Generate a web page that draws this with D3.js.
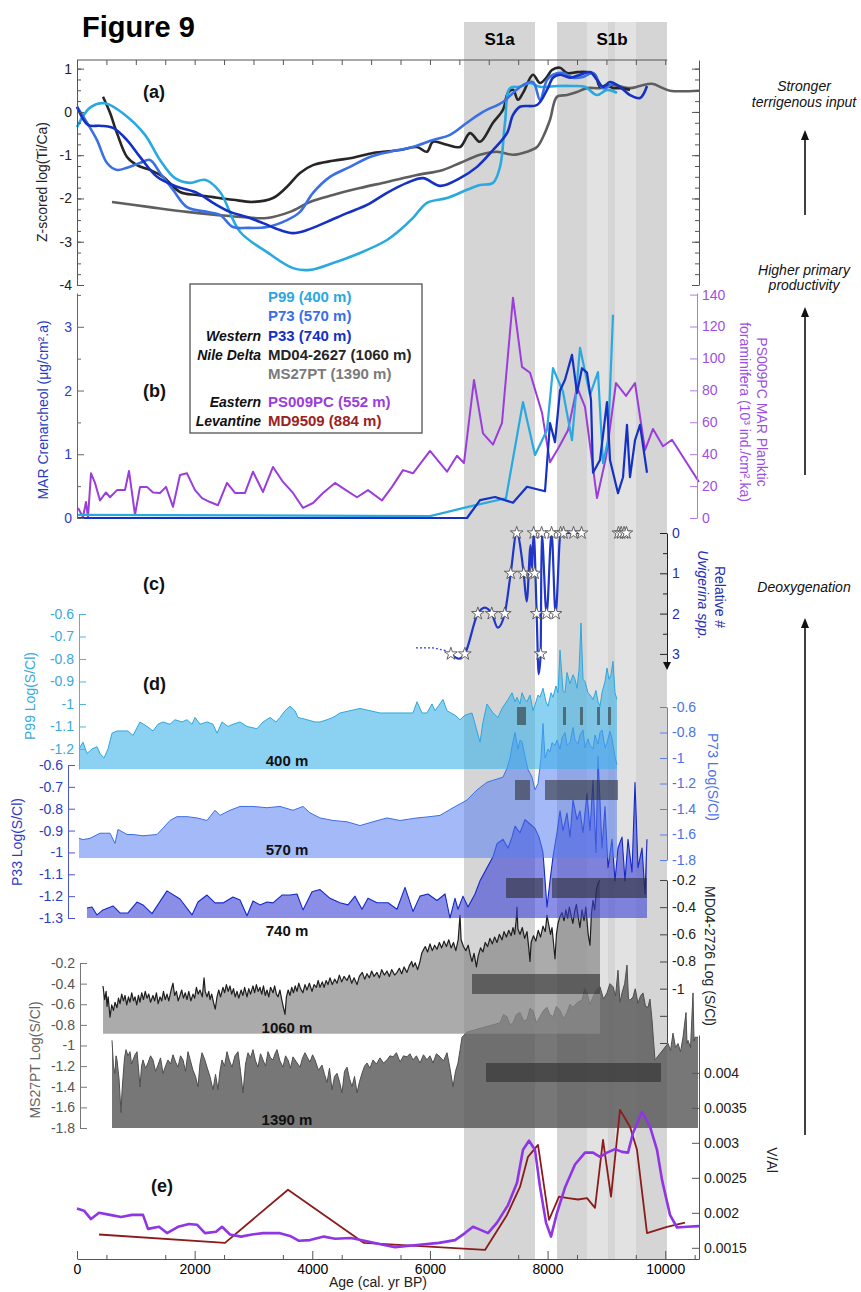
<!DOCTYPE html>
<html>
<head>
<meta charset="utf-8">
<script src="https://cdn.jsdelivr.net/npm/d3@7"></script>
<style>
  body { margin: 0; background: #fff; }
  svg { display: block; font-family: "Liberation Sans", Arial, sans-serif; }
</style>
</head>
<body>
<svg id="chart" width="861" height="1292"></svg>
<script>
// sapropel intervals (cal. yr BP)
const s1Bands = [[6579, 7786], [8160, 10030]];
const s1LightStripes = [[8670, 9027], [9146, 9503]];
const s1Names = ["S1a", "S1b"];

const legendNames = ["P99 (400 m)", "P73 (570 m)", "P33 (740 m)", "MD04-2627 (1060 m)", "MS27PT (1390 m)", "PS009PC (552 m)", "MD9509 (884 m)"];
const depthLabels = ["400 m", "570 m", "740 m", "1060 m", "1390 m"];
const ageTicks = [0, 2000, 4000, 6000, 8000, 10000];

// (a) Z-scored log(Ti/Ca)
const tiCaP99 = [[0,-0.35],[221,0.1],[476,0.2],[816,-0.07],[1156,-0.53],[1411,-1.11],[1666,-1.53],[1921,-1.64],[2176,-1.57],[2431,-1.85],[2771,-2.77],[3230,-3.24],[3672,-3.61],[3961,-3.65],[4352,-3.49],[4811,-3.26],[5270,-2.96],[5491,-2.73],[5712,-2.45],[5950,-2.10],[6290,-1.99],[6630,-1.80],[6851,-1.69],[7072,-1.64],[7191,-1.27],[7276,-0.25],[7361,0.55],[7531,0.58],[7701,0.67],[7871,0.58],[8160,0.6],[8432,0.6],[8636,0.58],[8840,0.39],[9010,0.51],[9180,0.44]];
const tiCaP73 = [[0,0.12],[170,-0.25],[340,-0.65],[510,-1.18],[680,-1.34],[850,-1.29],[1071,-1.18],[1241,-1.11],[1411,-1.41],[1632,-1.80],[1870,-2.20],[2210,-2.31],[2431,-2.38],[2652,-2.66],[2890,-2.68],[3230,-2.66],[3570,-2.50],[3791,-2.31],[4012,-1.87],[4301,-1.50],[4641,-1.27],[4981,-1.04],[5321,-0.92],[5712,-0.81],[6052,-0.65],[6341,-0.53],[6630,-0.25],[6902,0],[7242,0.23],[7412,0.44],[7582,0.62],[7752,0.69],[7871,0.28],[7990,0.74],[8092,0.86],[8262,0.90],[8432,0.79],[8602,0.81],[8772,0.90],[8942,0.55],[9112,0.67]];
const tiCaP33 = [[0,0.12],[187,-0.30],[391,-0.32],[612,-0.37],[850,-0.65],[1071,-1.04],[1360,-1.50],[1700,-1.73],[2040,-1.87],[2312,-2.10],[2601,-2.31],[2890,-2.43],[3162,-2.57],[3451,-2.73],[3672,-2.80],[3910,-2.73],[4250,-2.54],[4590,-2.34],[4930,-2.15],[5270,-1.87],[5610,-1.64],[5882,-1.53],[6171,-1.71],[6511,-1.53],[6800,-1.27],[7072,-0.88],[7310,-0.49],[7412,-0.07],[7531,0.12],[7820,0.16],[7990,0.51],[8092,0.79],[8211,0.86],[8381,0.79],[8551,0.86],[8721,0.92],[8840,0.74],[8942,0.58],[9061,0.69],[9231,0.58],[9401,0.39],[9571,0.32],[9690,0.60]];
const tiCaMD04 = [[442,0.35],[561,-0.02],[680,-0.49],[850,-1.04],[1020,-1.23],[1241,-1.34],[1462,-1.50],[1751,-1.85],[2040,-1.92],[2312,-1.97],[2652,-2.03],[2992,-2.08],[3332,-1.99],[3570,-1.73],[3791,-1.41],[4012,-1.23],[4352,-1.13],[4692,-1.06],[5032,-0.95],[5491,-0.88],[5780,-0.81],[5950,-0.92],[6052,-0.69],[6290,-0.76],[6511,-0.81],[6681,-0.49],[6851,-0.69],[7072,-0.25],[7242,0.05],[7327,0.44],[7412,0.51],[7497,0.28],[7582,0.44],[7752,0.86],[7871,0.67],[7990,0.81],[8075,0.97],[8211,1.02],[8330,0.90],[8500,0.92],[8670,0.92],[8806,0.86],[8891,0.58],[9010,0.62],[9112,0.55],[9231,0.55],[9401,0.51]];
const tiCaMS27 = [[595,-2.08],[1241,-2.20],[1870,-2.31],[2550,-2.40],[3230,-2.45],[3621,-2.31],[3961,-2.08],[4352,-1.92],[4811,-1.76],[5270,-1.62],[5780,-1.46],[6222,-1.34],[6511,-1.18],[6851,-0.99],[7140,-0.92],[7412,-0.99],[7650,-0.92],[7820,-0.81],[7922,-0.58],[8041,-0.18],[8160,0.35],[8330,0.39],[8500,0.46],[8670,0.55],[8891,0.55],[9112,0.62],[9401,0.55],[9571,0.60],[9775,0.65],[9962,0.55],[10081,0.49],[10574,0.49]];

// (b) MAR crenarchaeol and planktic foraminifera
const crenP99 = [[17,0.05],[6001,0.03],[6630,0.17],[7293,0.31],[7582,1.82],[7786,0.99],[7990,1.38],[8092,2.35],[8262,1.98],[8415,1.22],[8551,2.67],[8721,1.93],[8857,2.29],[8942,0.86],[9027,1.22],[9112,3.19]];
const crenP33 = [[17,0.0],[6630,0.0],[6851,0.28],[7106,0.33],[7412,0.24],[7650,0.49],[7956,0.42],[8041,1.49],[8126,1.19],[8211,2.0],[8296,2.17],[8415,2.56],[8500,1.96],[8585,2.35],[8670,2.28],[8738,1.85],[8772,0.71],[8891,0.91],[9010,1.82],[9061,0.91],[9197,0.39],[9282,0.64],[9350,1.46],[9401,0.64],[9486,1.22],[9571,1.46],[9690,0.71]];
const planktPS009 = [[17,6.3],[102,0.6],[153,10],[187,0.6],[238,28],[306,22],[391,11],[493,16],[561,13],[680,17.5],[816,17.5],[884,29.5],[986,2],[1071,19.5],[1190,19.5],[1292,16],[1411,15.7],[1513,19.5],[1632,7],[1751,27],[1870,28],[2006,17.5],[2125,12.5],[2261,10],[2397,8],[2550,22],[2686,15.7],[2856,15.7],[2992,29],[3162,16.3],[3332,32],[3502,22.6],[3672,15.7],[3842,6.3],[4012,9.4],[4182,15.7],[4386,22],[4590,17],[4760,13],[4947,17.5],[5185,11],[5355,19.5],[5542,30],[5712,28],[6001,42],[6290,29],[6460,39],[6579,34.5],[6749,86.5],[6902,53],[7072,46],[7225,59.6],[7412,138],[7565,94.7],[7701,91],[7905,66],[8041,35],[8194,44.5],[8347,55],[8500,82],[8636,69.6],[8840,12.5],[8993,38],[9163,84.6],[9333,76.5],[9486,84.6],[9656,42.6],[9792,55.8],[9962,45],[10115,49],[10574,22.6]];

// (c) relative # Uvigerina spp.
const uvigDotted = [[5763,2.85],[6050,2.85],[6271,2.92],[6356,3.0]];
const uvigLine = [[6356,3.0],[6492,3.12],[6593,3.0],[6814,2.0],[6932,1.85],[7051,2.0],[7153,2.35],[7272,2.0],[7373,1.0],[7475,0.0],[7594,1.0],[7645,1.7],[7712,0.3],[7729,1.0],[7763,0.0],[7814,2.0],[7848,3.5],[7882,3.0],[7899,0.0],[7983,2.0],[8068,0.0],[8136,2.0],[8221,0.0],[8272,0.0],[8441,0.0],[8577,0.0]];
const uvigSamples = [[6356,3],[6593,3],[6814,2],[7051,2],[7272,2],[7373,1],[7475,0],[7594,1],[7729,1],[7763,0],[7780,1],[7814,2],[7882,3],[7899,0],[7983,2],[8068,0],[8136,2],[8221,0],[8272,0],[8441,0],[8577,0],[9204,0],[9250,0],[9300,0],[9340,0]];

// (d) Log(S/Cl)
const scP99 = [[34,-1.20],[102,-1.17],[170,-1.22],[255,-1.20],[340,-1.19],[391,-1.22],[459,-1.24],[527,-1.20],[595,-1.13],[680,-1.12],[765,-1.12],[867,-1.12],[952,-1.14],[1071,-1.08],[1190,-1.10],[1292,-1.12],[1377,-1.09],[1462,-1.08],[1581,-1.09],[1666,-1.07],[1785,-1.08],[1870,-1.07],[1955,-1.09],[2006,-1.06],[2091,-1.09],[2210,-1.08],[2312,-1.09],[2380,-1.13],[2465,-1.08],[2567,-1.10],[2652,-1.09],[2771,-1.08],[2890,-1.10],[3060,-1.11],[3162,-1.08],[3281,-1.06],[3383,-1.08],[3451,-1.06],[3536,-1.03],[3621,-1.01],[3706,-1.03],[3757,-1.06],[3910,-1.07],[4046,-1.08],[4131,-1.08],[4250,-1.07],[4352,-1.06],[4471,-1.04],[4641,-1.03],[4811,-1.02],[4981,-1.03],[5151,-1.04],[5270,-1.04],[5406,-1.04],[5542,-1.04],[5712,-1.04],[5780,-0.99],[5865,-1.04],[5950,-1.04],[6035,-1.00],[6086,-1.03],[6222,-0.98],[6290,-1.03],[6426,-1.05],[6511,-1.07],[6596,-1.05],[6715,-1.04],[6800,-1.12],[6851,-1.17],[6902,-1.08],[6970,-1.00],[7072,-1.04],[7157,-1.06],[7225,-1.02],[7276,-1.00],[7327,-0.98],[7395,-0.95],[7446,-0.99],[7480,-0.97],[7531,-1.00],[7565,-0.95],[7616,-0.98],[7650,-0.99],[7701,-0.96],[7752,-1.03],[7803,-0.99],[7837,-0.96],[7871,-0.97],[7922,-0.93],[7973,-0.99],[8007,-1.01],[8058,-0.95],[8092,-0.97],[8143,-0.92],[8177,-0.95],[8211,-0.76],[8262,-0.94],[8296,-0.95],[8330,-0.86],[8381,-0.91],[8432,-0.87],[8466,-0.89],[8500,-0.93],[8534,-0.85],[8568,-0.64],[8602,-0.89],[8636,-0.90],[8687,-0.95],[8721,-0.96],[8772,-0.98],[8823,-0.94],[8857,-0.99],[8891,-1.01],[8925,-0.95],[8976,-0.90],[9010,-0.84],[9044,-0.89],[9078,-0.87],[9112,-0.81],[9146,-0.95],[9180,-0.98]];
const scP73 = [[34,-1.63],[102,-1.64],[221,-1.63],[391,-1.59],[561,-1.59],[646,-1.67],[697,-1.56],[850,-1.60],[952,-1.60],[1122,-1.61],[1360,-1.60],[1462,-1.55],[1581,-1.49],[1700,-1.46],[1870,-1.46],[2040,-1.47],[2210,-1.49],[2346,-1.41],[2431,-1.45],[2601,-1.41],[2771,-1.38],[2992,-1.38],[3230,-1.39],[3451,-1.38],[3672,-1.41],[3842,-1.38],[3961,-1.43],[4131,-1.47],[4352,-1.49],[4590,-1.50],[4811,-1.53],[5032,-1.50],[5270,-1.47],[5491,-1.49],[5780,-1.47],[6001,-1.46],[6171,-1.45],[6392,-1.39],[6630,-1.33],[6800,-1.25],[6970,-1.19],[7106,-1.17],[7242,-1.15],[7310,-1.08],[7361,-1.00],[7395,-0.91],[7446,-0.80],[7497,-0.93],[7531,-0.86],[7565,-0.87],[7616,-0.99],[7667,-1.09],[7735,-1.15],[7786,-1.25],[7837,-1.20],[7888,-1.00],[7922,-0.73],[7956,-1.00],[8007,-0.93],[8041,-0.95],[8075,-0.88],[8126,-0.90],[8160,-0.86],[8211,-0.93],[8245,-0.84],[8296,-0.80],[8330,-0.90],[8381,-0.88],[8432,-0.76],[8466,-0.86],[8517,-0.89],[8551,-0.82],[8602,-0.78],[8636,-0.92],[8687,-0.85],[8721,-0.90],[8772,-0.93],[8806,-0.82],[8857,-0.89],[8891,-0.80],[8925,-0.78],[8976,-0.92],[9010,-0.88],[9061,-0.79],[9095,-0.85],[9146,-0.99],[9180,-1.05]];
const scP33 = [[170,-1.254],[255,-1.25],[340,-1.286],[442,-1.263],[612,-1.245],[731,-1.277],[867,-1.277],[1020,-1.227],[1122,-1.24],[1275,-1.28],[1530,-1.176],[1751,-1.213],[1955,-1.286],[2057,-1.227],[2210,-1.195],[2346,-1.231],[2482,-1.231],[2652,-1.204],[2771,-1.218],[2890,-1.29],[2992,-1.222],[3111,-1.24],[3230,-1.227],[3332,-1.231],[3485,-1.195],[3621,-1.195],[3740,-1.19],[3842,-1.263],[3995,-1.18],[4131,-1.17],[4301,-1.21],[4471,-1.23],[4607,-1.24],[4726,-1.20],[4845,-1.26],[4947,-1.21],[5100,-1.23],[5287,-1.23],[5440,-1.26],[5576,-1.16],[5712,-1.27],[5831,-1.20],[5967,-1.19],[6120,-1.22],[6256,-1.19],[6341,-1.30],[6426,-1.21],[6477,-1.26],[6562,-1.20],[6647,-1.25],[6766,-1.19],[6851,-1.13],[6970,-1.07],[7072,-1.02],[7140,-0.96],[7242,-0.94],[7327,-0.98],[7395,-0.93],[7446,-0.88],[7531,-0.91],[7616,-0.85],[7701,-0.87],[7786,-0.89],[7854,-0.93],[7922,-1.0],[7990,-1.25],[8041,-1.13],[8092,-1.02],[8160,-0.91],[8211,-0.81],[8262,-0.90],[8330,-0.82],[8381,-0.93],[8432,-0.76],[8500,-0.85],[8551,-0.81],[8602,-0.91],[8670,-0.73],[8721,-0.90],[8772,-0.67],[8823,-1.0],[8857,-0.56],[8925,-0.98],[8976,-0.79],[9027,-1.07],[9095,-0.94],[9146,-1.13],[9197,-0.98],[9265,-0.93],[9316,-1.13],[9367,-0.94],[9435,-1.09],[9486,-0.68],[9537,-1.07],[9605,-0.98],[9656,-1.19],[9690,-0.94]];
const scMD04 = [[442,-0.98],[470,-1.08],[495,-1.02],[510,-1.13],[530,-1.06],[561,-1.21],[590,-1.12],[620,-1.16],[646,-1.10],[680,-1.14],[705,-1.07],[731,-1.11],[760,-1.04],[790,-1.09],[816,-1.05],[845,-1.12],[875,-1.06],[901,-1.10],[930,-1.03],[960,-1.09],[986,-1.06],[1015,-1.12],[1045,-1.05],[1071,-1.10],[1100,-1.03],[1130,-1.08],[1160,-1.02],[1190,-1.07],[1220,-1.04],[1250,-1.10],[1292,-1.05],[1320,-1.09],[1350,-1.03],[1380,-1.11],[1411,-1.06],[1440,-1.09],[1470,-1.02],[1500,-1.08],[1530,-1.04],[1560,-1.09],[1600,-1.01],[1632,-0.96],[1660,-1.05],[1690,-1.02],[1720,-1.09],[1751,-1.05],[1780,-1.01],[1810,-1.07],[1840,-1.03],[1870,-1.08],[1900,-1.02],[1935,-1.09],[1972,-1.04],[2000,-1.07],[2030,-0.99],[2060,-1.04],[2091,-1.01],[2130,-1.06],[2160,-0.92],[2180,-1.02],[2210,-1.06],[2240,-1.02],[2261,-1.08],[2290,-1.04],[2320,-1.10],[2350,-1.15],[2380,-1.06],[2410,-1.01],[2440,-1.06],[2482,-0.99],[2510,-1.03],[2540,-0.97],[2570,-1.02],[2601,-0.98],[2630,-1.04],[2660,-1.00],[2690,-1.06],[2720,-1.02],[2750,-1.07],[2790,-1.01],[2820,-1.05],[2850,-0.99],[2890,-1.06],[2920,-1.00],[2950,-1.04],[2992,-0.98],[3020,-1.03],[3050,-0.97],[3080,-1.02],[3111,-0.99],[3140,-1.04],[3170,-0.98],[3200,-1.05],[3230,-1.01],[3260,-1.06],[3290,-0.99],[3332,-1.03],[3360,-0.98],[3390,-1.04],[3417,-1.06],[3450,-1.01],[3480,-1.08],[3510,-1.14],[3536,-1.19],[3560,-1.06],[3590,-1.01],[3621,-1.05],[3650,-0.99],[3680,-1.03],[3710,-0.98],[3740,-1.02],[3770,-0.96],[3800,-1.00],[3840,-1.03],[3876,-0.97],[3910,-1.01],[3950,-0.96],[3995,-1.02],[4030,-0.97],[4070,-0.99],[4100,-0.94],[4131,-0.99],[4170,-0.95],[4200,-0.99],[4235,-0.94],[4267,-0.97],[4300,-0.92],[4340,-0.97],[4380,-0.93],[4420,-0.96],[4460,-0.90],[4500,-0.95],[4540,-0.91],[4590,-0.94],[4630,-0.90],[4670,-0.96],[4710,-0.92],[4760,-0.97],[4800,-0.91],[4850,-0.88],[4890,-0.93],[4930,-0.89],[4970,-0.92],[5010,-0.87],[5050,-0.91],[5100,-0.88],[5140,-0.92],[5180,-0.86],[5225,-0.90],[5270,-0.87],[5310,-0.91],[5350,-0.86],[5400,-0.90],[5440,-0.88],[5480,-0.85],[5520,-0.89],[5560,-0.84],[5610,-0.88],[5650,-0.83],[5690,-0.80],[5712,-0.84],[5750,-0.81],[5790,-0.86],[5831,-0.80],[5860,-0.74],[5882,-0.72],[5920,-0.69],[5960,-0.73],[6001,-0.67],[6040,-0.72],[6080,-0.68],[6120,-0.71],[6160,-0.66],[6200,-0.70],[6240,-0.65],[6280,-0.69],[6320,-0.64],[6360,-0.70],[6400,-0.66],[6440,-0.72],[6480,-0.64],[6511,-0.46],[6530,-0.64],[6570,-0.69],[6610,-0.72],[6650,-0.68],[6690,-0.76],[6715,-0.80],[6750,-0.74],[6790,-0.84],[6820,-0.76],[6860,-0.70],[6900,-0.73],[6940,-0.66],[6980,-0.69],[7020,-0.63],[7060,-0.67],[7100,-0.62],[7140,-0.66],[7180,-0.60],[7225,-0.64],[7260,-0.58],[7300,-0.62],[7340,-0.57],[7380,-0.61],[7412,-0.55],[7440,-0.60],[7465,-0.50],[7480,-0.40],[7495,-0.56],[7531,-0.60],[7570,-0.55],[7610,-0.63],[7650,-0.58],[7680,-0.70],[7701,-0.80],[7720,-0.66],[7760,-0.61],[7800,-0.65],[7840,-0.57],[7880,-0.62],[7922,-0.54],[7960,-0.58],[7990,-0.46],[8020,-0.53],[8050,-0.60],[8075,-0.55],[8100,-0.66],[8126,-0.78],[8150,-0.60],[8177,-0.52],[8210,-0.47],[8245,-0.44],[8280,-0.50],[8310,-0.42],[8340,-0.48],[8370,-0.40],[8400,-0.46],[8430,-0.52],[8460,-0.43],[8490,-0.38],[8520,-0.47],[8550,-0.55],[8585,-0.42],[8620,-0.50],[8650,-0.40],[8690,-0.60],[8721,-0.68],[8745,-0.45],[8772,-0.35],[8800,-0.42],[8830,-0.27],[8860,-0.22],[8891,-0.20]];
const scMS27 = [[595,-0.95],[620,-1.20],[646,-1.27],[663,-1.10],[680,-1.14],[714,-1.32],[748,-1.65],[765,-1.45],[782,-1.31],[808,-1.12],[833,-1.04],[867,-1.10],[901,-1.06],[927,-1.18],[952,-1.14],[986,-1.09],[1020,-1.06],[1045,-1.22],[1071,-1.40],[1097,-1.20],[1122,-1.14],[1165,-1.22],[1207,-1.17],[1250,-1.10],[1292,-1.14],[1335,-1.25],[1377,-1.19],[1420,-1.12],[1462,-1.27],[1505,-1.20],[1547,-1.14],[1590,-1.18],[1632,-1.09],[1675,-1.16],[1717,-1.21],[1760,-1.10],[1802,-1.14],[1845,-1.25],[1887,-1.06],[1930,-1.15],[1972,-1.24],[2015,-1.30],[2057,-1.40],[2090,-1.18],[2125,-1.07],[2168,-1.13],[2210,-1.21],[2260,-1.30],[2312,-1.43],[2355,-1.28],[2397,-1.43],[2430,-1.25],[2465,-1.14],[2508,-1.20],[2550,-1.06],[2593,-1.15],[2635,-1.21],[2686,-1.10],[2737,-1.06],[2780,-1.25],[2822,-1.46],[2865,-1.18],[2907,-1.07],[2950,-1.12],[2992,-1.04],[3035,-1.15],[3077,-1.21],[3120,-1.08],[3162,-1.14],[3205,-1.20],[3247,-1.06],[3290,-1.12],[3332,-1.14],[3366,-1.08],[3400,-1.04],[3450,-1.15],[3502,-1.21],[3545,-1.10],[3587,-1.14],[3630,-1.22],[3672,-1.11],[3730,-1.16],[3791,-1.21],[3834,-1.12],[3876,-1.07],[3920,-1.12],[3961,-1.16],[4005,-1.09],[4046,-1.14],[4105,-1.24],[4165,-1.19],[4208,-1.28],[4250,-1.36],[4292,-1.22],[4335,-1.43],[4378,-1.30],[4420,-1.27],[4462,-1.35],[4505,-1.46],[4548,-1.25],[4590,-1.21],[4632,-1.32],[4675,-1.40],[4718,-1.30],[4760,-1.46],[4803,-1.35],[4845,-1.27],[4888,-1.20],[4930,-1.17],[4980,-1.22],[5032,-1.14],[5090,-1.18],[5151,-1.12],[5210,-1.17],[5270,-1.14],[5320,-1.10],[5372,-1.11],[5430,-1.07],[5491,-1.16],[5550,-1.10],[5610,-1.11],[5660,-1.08],[5712,-1.14],[5770,-1.10],[5831,-1.17],[5890,-1.09],[5950,-1.14],[6000,-1.10],[6052,-1.17],[6110,-1.08],[6171,-1.11],[6230,-1.15],[6290,-1.07],[6340,-1.22],[6392,-1.40],[6435,-1.25],[6477,-1.17],[6510,-1.05],[6545,-0.92],[6630,-0.87],[7191,-0.78],[7250,-0.70],[7310,-0.72],[7360,-0.80],[7412,-0.78],[7470,-0.70],[7531,-0.68],[7590,-0.76],[7650,-0.75],[7700,-0.64],[7752,-0.66],[7810,-0.78],[7871,-0.72],[7930,-0.66],[7990,-0.63],[8040,-0.70],[8092,-0.72],[8150,-0.62],[8211,-0.66],[8270,-0.74],[8330,-0.68],[8380,-0.60],[8432,-0.63],[8510,-0.58],[8585,-0.56],[8630,-0.45],[8670,-0.49],[8720,-0.60],[8772,-0.53],[8830,-0.46],[8891,-0.43],[8950,-0.55],[9010,-0.49],[9060,-0.40],[9112,-0.43],[9155,-0.52],[9197,-0.27],[9230,-0.58],[9265,-0.49],[9310,-0.40],[9350,-0.22],[9375,-0.55],[9401,-0.56],[9452,-0.53],[9490,-0.45],[9537,-0.59],[9580,-0.52],[9622,-0.49],[9665,-0.62],[9707,-0.63],[9740,-0.55],[9775,-0.75],[9800,-0.95],[9826,-1.14],[10047,-0.98],[10090,-1.05],[10132,-0.88],[10175,-1.02],[10217,-0.98],[10260,-1.06],[10302,-0.92],[10353,-0.68],[10370,-0.98],[10387,-0.95],[10430,-1.02],[10472,-0.49],[10490,-0.96],[10506,-0.92],[10557,-0.92]];

// dark bars of the sapropel intervals in each core
const barsP99 = [[7480,7633],[8262,8313],[8551,8602],[8840,8891],[9027,9078]];
const barsP73 = [[7446,7701],[7956,9197]];
const barsP33 = [[7293,7922],[8075,9690]];
const barsMD04 = [[6715,8891]];
const barsMS27 = [[6953,9928]];

// (e) V/Al
const vAlPS009 = [[0,0.00206],[119,0.00203],[238,0.00191],[374,0.0020],[561,0.00197],[748,0.00194],[935,0.00197],[1122,0.00197],[1207,0.00177],[1394,0.0018],[1530,0.00171],[1717,0.0018],[1904,0.00184],[2040,0.00183],[2176,0.00171],[2363,0.00173],[2465,0.0018],[2601,0.00169],[2788,0.00166],[2975,0.00169],[3162,0.00171],[3434,0.00171],[3621,0.00167],[3774,0.0016],[3961,0.00161],[4199,0.00166],[4386,0.00163],[4658,0.00164],[4947,0.00159],[5219,0.00154],[5406,0.00151],[5780,0.00154],[6154,0.00157],[6426,0.00161],[6596,0.00171],[6732,0.0018],[6851,0.00176],[6987,0.00171],[7140,0.00186],[7327,0.00211],[7480,0.00243],[7582,0.0029],[7684,0.00303],[7786,0.0029],[7871,0.00237],[7973,0.00186],[8058,0.00166],[8160,0.0020],[8296,0.00236],[8466,0.00269],[8636,0.00286],[8772,0.00286],[8891,0.0028],[9010,0.00286],[9146,0.00291],[9265,0.00287],[9367,0.00286],[9452,0.00314],[9605,0.00344],[9741,0.00323],[9860,0.0029],[9945,0.00247],[10081,0.00197],[10200,0.00179],[10370,0.0018],[10574,0.00181]];
const vAlMD9509 = [[374,0.00169],[2516,0.00157],[3587,0.00233],[4879,0.00157],[6936,0.00147],[7310,0.00197],[7531,0.00237],[7667,0.0028],[7837,0.00297],[8024,0.0019],[8194,0.00223],[8347,0.00221],[8517,0.00219],[8670,0.00221],[8806,0.00207],[8942,0.00304],[9078,0.00223],[9231,0.00347],[9401,0.00323],[9520,0.0029],[9690,0.00171],[10030,0.0018],[10336,0.00186]];

const svg = d3.select("#chart");
const x = d3.scaleLinear().domain([0, 10574]).range([77, 699]);

const yA = d3.scaleLinear().domain([-4, 1.2]).range([285, 60]);
const yB = d3.scaleLinear().domain([0, 3.53]).range([518, 293]);
const yBr = d3.scaleLinear().domain([0, 141]).range([518, 293]);
const yC = d3.scaleLinear().domain([0, 3.35]).range([533, 668]);
const yP99 = d3.scaleLinear().domain([-1.289, -0.6]).range([769, 614]);
const yP73 = d3.scaleLinear().domain([-1.8, -0.6]).range([860, 707]);
const yP33 = d3.scaleLinear().domain([-1.3, -0.6]).range([918, 765]);
const yMD = d3.scaleLinear().domain([-1.4, -0.2]).range([1043, 880]);
const yMS = d3.scaleLinear().domain([-1.8, -0.2]).range([1128, 963]);
const yE = d3.scaleLinear().domain([0.00134, 0.00454]).range([1259, 1035]);

// background bands
svg.selectAll("rect.band").data(s1Bands).join("rect").attr("class", "band")
    .attr("x", d => x(d[0])).attr("width", d => x(d[1]) - x(d[0]))
    .attr("y", 22).attr("height", 1259 - 22).attr("fill", "#d5d5d5");
svg.selectAll("rect.stripe").data(s1LightStripes).join("rect").attr("class", "stripe")
    .attr("x", d => x(d[0])).attr("width", d => x(d[1]) - x(d[0]))
    .attr("y", 22).attr("height", 1259 - 22).attr("fill", "#e2e2e2");
svg.selectAll("text.sname").data(s1Bands).join("text").attr("class", "sname")
    .attr("x", d => (x(d[0]) + x(d[1])) / 2).attr("y", 45)
    .attr("text-anchor", "middle").attr("font-size", 17).attr("font-weight", "bold")
    .text((d, i) => s1Names[i]);

function drawLine(data, y, color, width, curve, dash) {
    svg.append("path").datum(data)
        .attr("fill", "none").attr("stroke", color).attr("stroke-width", width)
        .attr("stroke-linejoin", "round").attr("stroke-dasharray", dash || null)
        .attr("d", d3.line().x(d => x(d[0])).y(d => y(d[1])).curve(curve || d3.curveLinear));
}

function drawArea(data, y, base, fill, opacity, stroke, width) {
    svg.append("path").datum(data)
        .attr("fill", fill).attr("fill-opacity", opacity)
        .attr("d", d3.area().x(d => x(d[0])).y0(y(base)).y1(d => y(d[1])));
    drawLine(data, y, stroke, width);
}

function drawBars(list, barTop, barBottom) {
    list.forEach(b => {
        svg.append("rect").attr("x", x(b[0])).attr("width", x(b[1]) - x(b[0]))
            .attr("y", barTop).attr("height", barBottom - barTop)
            .attr("fill", "#262626").attr("fill-opacity", 0.55);
    });
}

function yAxis(scale, side, xPos, major, labels, lineColor, textColor, minor) {
    const make = side === "left" ? d3.axisLeft : d3.axisRight;
    const g = svg.append("g").attr("transform", `translate(${xPos},0)`);
    g.call(make(scale).tickValues(major).tickSize(-7).tickSizeOuter(0).tickPadding(5)
        .tickFormat(d => labels && labels.includes(d) ? String(d) : ""));
    g.attr("font-family", null).attr("font-size", 14);
    g.select(".domain").attr("stroke", lineColor);
    g.selectAll(".tick line").attr("stroke", lineColor);
    g.selectAll(".tick text").attr("fill", textColor);
    if (minor) {
        const m = svg.append("g").attr("transform", `translate(${xPos},0)`);
        m.call(make(scale).tickValues(minor).tickSize(-4).tickSizeOuter(0).tickFormat(""));
        m.select(".domain").remove();
        m.selectAll(".tick line").attr("stroke", lineColor);
    }
}

function vText(str, cx, cy, angle, color, size, style) {
    svg.append("text").attr("transform", `translate(${cx},${cy}) rotate(${angle})`)
        .attr("text-anchor", "middle").attr("dy", "0.35em")
        .attr("font-size", size || 14).attr("fill", color)
        .attr("font-style", style || null).text(str);
}

// (a)
const curveA = d3.curveCatmullRom.alpha(0.5);
drawLine(tiCaMS27, yA, "#5e5e5e", 2.6, curveA);
drawLine(tiCaMD04, yA, "#262626", 2.6, curveA);
drawLine(tiCaP99, yA, "#2aa9e0", 2.6, curveA);
drawLine(tiCaP73, yA, "#3a6fe6", 2.6, curveA);
drawLine(tiCaP33, yA, "#1530c4", 2.6, curveA);

// (b)
drawLine(planktPS009, yBr, "#9a3ddb", 2, null);
drawLine(crenP99, yB, "#2aa9e0", 2.2, null);
drawLine(crenP33, yB, "#1530c4", 2.2, null);

// (c)
drawLine(uvigDotted, yC, "#3040c8", 1.2, null, "2,2");
drawLine(uvigLine, yC, "#1f36c8", 2.2, d3.curveMonotoneX);
svg.selectAll("path.star").data(uvigSamples).join("path").attr("class", "star")
    .attr("transform", d => `translate(${x(d[0])},${yC(d[1])})`)
    .attr("d", d3.symbol(d3.symbolStar, 50)).attr("fill", "#fff")
    .attr("stroke", "#555").attr("stroke-width", 0.9);

// (d)
drawArea(scMS27, yMS, -1.8, "#555555", 0.8, "#4e4e4e", 1);
drawArea(scMD04, yMD, -1.332, "#8a8a8a", 0.72, "#1e1e1e", 1.2);
drawArea(scP33, yP33, -1.3, "#3c43d6", 0.6, "#1428c8", 1.1);
drawArea(scP73, yP73, -1.785, "#5a7ff0", 0.55, "#3e6ee8", 1);
drawArea(scP99, yP99, -1.289, "#3db3ea", 0.6, "#2fa6dd", 1);
drawBars(barsP99, 707, 725);
drawBars(barsP73, 780, 800);
drawBars(barsP33, 878, 898);
drawBars(barsMD04, 974, 994);
drawBars(barsMS27, 1063, 1082);

// (e)
drawLine(vAlMD9509, yE, "#8b1c1c", 1.8, null);
drawLine(vAlPS009, yE, "#8f35e6", 2.6, null);

// axes
yAxis(yA, "left", 77, [1, 0, -1, -2, -3, -4], [1, 0, -1, -2, -3, -4], "#555", "#222", d3.range(-3.75, 1.2, 0.25));
yAxis(yA, "right", 699, [1, 0, -1, -2, -3, -4], null, "#555", "#222", d3.range(-3.75, 1.2, 0.25));
yAxis(yB, "left", 77, [0, 1, 2, 3], [0, 1, 2, 3], "#666", "#2b3cc4", [0.5, 1.5, 2.5, 3.5]);
yAxis(yBr, "right", 697, [0, 20, 40, 60, 80, 100, 120, 140], [0, 20, 40, 60, 80, 100, 120, 140], "#b27ae8", "#9d4fe3", null);
yAxis(yC, "right", 667, [0, 1, 2, 3], [0, 1, 2, 3], "#222", "#1f2fb5", [0.5, 1.5, 2.5]);
yAxis(yP99, "left", 79, [-0.6, -0.7, -0.8, -0.9, -1, -1.1, -1.2], [-0.6, -0.7, -0.8, -0.9, -1, -1.1, -1.2], "#4cb3e2", "#3aa9dc", null);
yAxis(yP33, "left", 68, [-0.6, -0.7, -0.8, -0.9, -1, -1.1, -1.2, -1.3], [-0.6, -0.7, -0.8, -0.9, -1, -1.1, -1.2, -1.3], "#4a55d2", "#2b3bc8", null);
yAxis(yMS, "left", 80, [-0.2, -0.4, -0.6, -0.8, -1, -1.2, -1.4, -1.6, -1.8], [-0.2, -0.4, -0.6, -0.8, -1, -1.2, -1.4, -1.6, -1.8], "#777", "#555", null);
yAxis(yP73, "right", 667, [-0.6, -0.8, -1, -1.2, -1.4, -1.6, -1.8], [-0.6, -0.8, -1, -1.2, -1.4, -1.6, -1.8], "#5a80ea", "#4a72e6", null);
yAxis(yMD, "right", 667, [-0.2, -0.4, -0.6, -0.8, -1, -1.2, -1.4], [-0.2, -0.4, -0.6, -0.8, -1], "#444", "#222", null);
yAxis(yE, "right", 699, [0.0015, 0.002, 0.0025, 0.003, 0.0035, 0.004], [0.0015, 0.002, 0.0025, 0.003, 0.0035, 0.004], "#555", "#222", null);

// arrow at the foot of the Uvigerina axis
svg.append("path").attr("d", `M663,${yC(3.2)}L671,${yC(3.2)}L667,${yC(3.2) + 8}Z`).attr("fill", "#111");

// top frame of (a)
const topFrame = svg.append("g").attr("transform", "translate(0,60)");
topFrame.call(d3.axisTop(x).tickValues(d3.range(0, 10001, 500)).tickSize(-5).tickSizeOuter(0).tickFormat(""));
topFrame.select(".domain").remove();
topFrame.selectAll(".tick line").attr("stroke", "#555");
svg.append("line").attr("x1", 77).attr("x2", x(10000) + 2).attr("y1", 60).attr("y2", 60).attr("stroke", "#555");

// bottom age axis
const bottomAxis = svg.append("g").attr("transform", "translate(0,1259)");
bottomAxis.call(d3.axisBottom(x).tickValues(ageTicks).tickSize(-8).tickSizeOuter(0).tickPadding(5).tickFormat(d => String(d)));
bottomAxis.attr("font-family", null).attr("font-size", 14);
bottomAxis.select(".domain").attr("stroke", "#555");
bottomAxis.selectAll(".tick line").attr("stroke", "#555");
const bottomMinor = svg.append("g").attr("transform", "translate(0,1259)");
bottomMinor.call(d3.axisBottom(x).tickValues(d3.range(500, 10501, 1000)).tickSize(-4).tickFormat(""));
bottomMinor.select(".domain").remove();
bottomMinor.selectAll(".tick line").attr("stroke", "#555");
svg.append("text").attr("x", 378).attr("y", 1287).attr("text-anchor", "middle")
    .attr("font-size", 14).attr("fill", "#222").text("Age (cal. yr BP)");

// legend
svg.append("rect").attr("x", 190).attr("y", 284).attr("width", 232).attr("height", 149)
    .attr("fill", "#fff").attr("stroke", "#444").attr("stroke-width", 1.2);
const legendColors = ["#2aa9e0", "#3a6fe6", "#1530c4", "#262626", "#7a7a7a", "#9a3ddb", "#9b2222"];
const legendRows = [302, 321, 341, 360, 379, 407, 426];
legendNames.forEach((name, i) => {
    svg.append("text").attr("x", 268).attr("y", legendRows[i]).attr("font-size", 15)
        .attr("font-weight", "bold").attr("fill", legendColors[i]).text(name);
});
[["Western", 341], ["Nile Delta", 360], ["Eastern", 407], ["Levantine", 426]].forEach(t => {
    svg.append("text").attr("x", 261).attr("y", t[1]).attr("text-anchor", "end")
        .attr("font-size", 14).attr("font-weight", "bold").attr("font-style", "italic")
        .attr("fill", "#111").text(t[0]);
});

// depth labels
const depthPos = [766, 855, 936, 1033, 1125];
depthLabels.forEach((t, i) => {
    svg.append("text").attr("x", 287).attr("y", depthPos[i]).attr("text-anchor", "middle")
        .attr("font-size", 15).attr("font-weight", "bold").attr("fill", "#111").text(t);
});

// titles and panel letters
svg.append("text").attr("x", 82).attr("y", 37).attr("font-size", 29).attr("font-weight", "bold").text("Figure 9");
[["(a)", 143, 98], ["(b)", 143, 397], ["(c)", 143, 590], ["(d)", 143, 690], ["(e)", 151, 1192]].forEach(t => {
    svg.append("text").attr("x", t[1]).attr("y", t[2]).attr("font-size", 18)
        .attr("font-weight", "bold").attr("fill", "#111").text(t[0]);
});

vText("Z-scored log(Ti/Ca)", 42, 182, -90, "#222");
vText("MAR Crenarcheol (μg/cm².a)", 43, 410, -90, "#2b3cc4");
vText("P99 Log(S/Cl)", 30, 696, -90, "#3aa9dc");
vText("P33 Log(S/Cl)", 17, 842, -90, "#2b3bc8");
vText("MS27PT Log(S/Cl)", 35, 1060, -90, "#666");
vText("PS009PC MAR Planktic", 762, 412, 90, "#9d4fe3");
vText("foraminifera  (10³ ind./cm².ka)", 745, 412, 90, "#9d4fe3");
vText("Relative #", 720, 597, 90, "#1f2fb5");
vText("Uvigerina spp.", 703, 595, 90, "#1f2fb5", 14, "italic");
vText("P73 Log(S/Cl)", 713, 777, 90, "#4a72e6");
vText("MD04-2726 Log (S/Cl)", 710, 956, 90, "#222");
vText("V/Al", 772, 1160, 90, "#222");

// right-hand annotations
function arrow(ax, tip, foot) {
    svg.append("line").attr("x1", ax).attr("x2", ax).attr("y1", tip + 6).attr("y2", foot)
        .attr("stroke", "#111").attr("stroke-width", 1.6);
    svg.append("path").attr("d", `M${ax - 4},${tip + 10}L${ax},${tip}L${ax + 4},${tip + 10}Z`).attr("fill", "#111");
}
[["Stronger", 91], ["terrigenous input", 107], ["Higher primary", 275], ["productivity", 290], ["Deoxygenation", 592]].forEach(t => {
    svg.append("text").attr("x", 804).attr("y", t[1]).attr("text-anchor", "middle")
        .attr("font-size", 14).attr("font-style", "italic").attr("fill", "#111").text(t[0]);
});
arrow(805, 130, 215);
arrow(805, 307, 475);
arrow(805, 618, 1135);
</script>
</body>
</html>
